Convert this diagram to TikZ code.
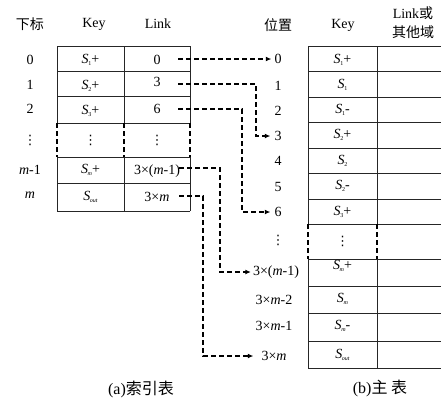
\documentclass[tikz,border=0pt]{standalone}
\usepackage{fontspec}
\setmainfont{Liberation Serif}
\newfontfamily\cjk{Noto Sans CJK SC}
\newfontfamily\dvfont{DejaVu Sans}
\usetikzlibrary{arrows.meta}
\newcommand{\Ss}[1]{\textit{S}\kern-0.3pt\raisebox{-0.35ex}{\fontsize{6}{6}\selectfont #1}}
\newcommand{\vdt}{{\dvfont\fontsize{13}{14}\selectfont ⋮}}
\begin{document}
\begin{tikzpicture}[x=1pt,y=-1pt,font=\fontsize{14}{16}\selectfont,
  tab/.style={line width=0.8pt,draw=black!85},
  dsh/.style={line width=1.3pt,dash pattern=on 5pt off 3pt},
  conn/.style={line width=1.3pt,dash pattern=on 5pt off 3pt,-{Latex[length=5.5pt,width=5pt]}},
  lbl/.style={inner sep=1pt},
  captxt/.style={font=\fontsize{16}{18}\selectfont}]
\useasboundingbox (0,0) rectangle (441,399);
% ---- left table
\foreach \y in {46,71,96,123,157,183,211} \draw[tab] (57,\y) -- (190,\y);
\foreach \x in {57,124,190} {
  \draw[tab] (\x,46) -- (\x,123);
  \draw[tab] (\x,157) -- (\x,211);
  \draw[dsh] (\x,123) -- (\x,157);
}
% ---- right table
\foreach \y in {46,71,97,122,148,173,199,224,259,286,313,341,368} \draw[tab] (308,\y) -- (441,\y);
\foreach \x in {308,377} {
  \draw[tab] (\x,46) -- (\x,224);
  \draw[tab] (\x,259) -- (\x,368);
  \draw[dsh] (\x,224) -- (\x,259);
}
% ---- headers
\node[lbl] (h1) at (30,24) {\cjk 下标};
\node[lbl] (h2) at (94,24) {Key};
\node[lbl] (h3) at (158,24) {Link};
\node[lbl] (h4) at (278,25) {\cjk 位置};
\node[lbl] (h5) at (343,25) {Key};
\node[lbl] (h6) at (413,13) {Link{\cjk 或}};
\node[lbl] (h7) at (413,32) {\cjk 其他域};
% ---- index column
\node[lbl] (i0) at (30,60) {0};
\node[lbl] (i1) at (30,85) {1};
\node[lbl] (i2) at (30,109) {2};
\node[lbl] (id) at (30,140) {\vdt};
\node[lbl] (im1) at (30,170) {\textit{m}-1};
\node[lbl] (im) at (30,195) {\textit{m}};
% ---- left key column
\node[lbl] (k0) at (90.5,60) {\Ss{1}+};
\node[lbl] (k1) at (90.5,86) {\Ss{2}+};
\node[lbl] (k2) at (90.5,111) {\Ss{3}+};
\node[lbl] (kd) at (90.5,140) {\vdt};
\node[lbl] (k3) at (90.5,170) {\Ss{\textit{m}}+};
\node[lbl] (k4) at (90.5,197) {\Ss{\textit{out}}};
% ---- left link column
\node[lbl] (l0) at (157,60) {0};
\node[lbl] (l1) at (157,82) {3};
\node[lbl] (l2) at (157,109) {6};
\node[lbl] (ld) at (157,140) {\vdt};
\node[lbl] (lm1) at (157,171) {3×(\textit{m}-1)};
\node[lbl] (lm) at (157,197) {3×\textit{m}};
% ---- positions
\node[lbl] (p0) at (278,59) {0};
\node[lbl] (p1) at (278,86) {1};
\node[lbl] (p2) at (278,111) {2};
\node[lbl] (p3) at (278,136) {3};
\node[lbl] (p4) at (278,161) {4};
\node[lbl] (p5) at (278,187) {5};
\node[lbl] (p6) at (278,212) {6};
\node[lbl] (pd) at (278,240) {\vdt};
\node[lbl] (pm1) at (276,272) {3×(\textit{m}-1)};
\node[lbl] (pm2) at (274,300) {3×\textit{m}-2};
\node[lbl] (pm3) at (274,326) {3×\textit{m}-1};
\node[lbl] (pm) at (274,356) {3×\textit{m}};
% ---- right key column
\node[lbl] (r0) at (342.5,60) {\Ss{1}+};
\node[lbl] (r1) at (342.5,85) {\Ss{1}};
\node[lbl] (r2) at (342.5,110) {\Ss{1}-};
\node[lbl] (r3) at (342.5,135) {\Ss{2}+};
\node[lbl] (r4) at (342.5,161) {\Ss{2}};
\node[lbl] (r5) at (342.5,186) {\Ss{2}-};
\node[lbl] (r6) at (342.5,212) {\Ss{3}+};
\node[lbl] (rd) at (342.5,241) {\vdt};
\node[lbl] (r7) at (342.5,266) {\Ss{\textit{m}}+};
\node[lbl] (r8) at (342.5,299) {\Ss{\textit{m}}};
\node[lbl] (r9) at (342.5,326) {\Ss{\textit{m}}-};
\node[lbl] (r10) at (342.5,355) {\Ss{\textit{out}}};
% ---- connectors
\coordinate (s0) at (178,59);
\coordinate (s1) at (178,84);
\coordinate (s2) at (178,109);
\coordinate (s3) at (179,168);
\coordinate (s4) at (179,196);
\draw[conn] (s0) -- ([xshift=-2pt]p0.west);
\draw[conn] (s1) -- (256,84) |- ([xshift=-3pt]p3.west);
\draw[conn] (s2) -- (242,109) |- ([xshift=-3pt]p6.west);
\draw[conn] (s3) -- (220,168) |- ([xshift=-1pt]pm1.west);
\draw[conn] (s4) -- (203,196) |- ([xshift=-7pt]pm.west);
% ---- captions
\node[captxt] (ca) at (141,389) {(a){\cjk 索引表}};
\node[captxt] (cb) at (380,388) {(b){\cjk 主 表}};
\end{tikzpicture}
\end{document}
